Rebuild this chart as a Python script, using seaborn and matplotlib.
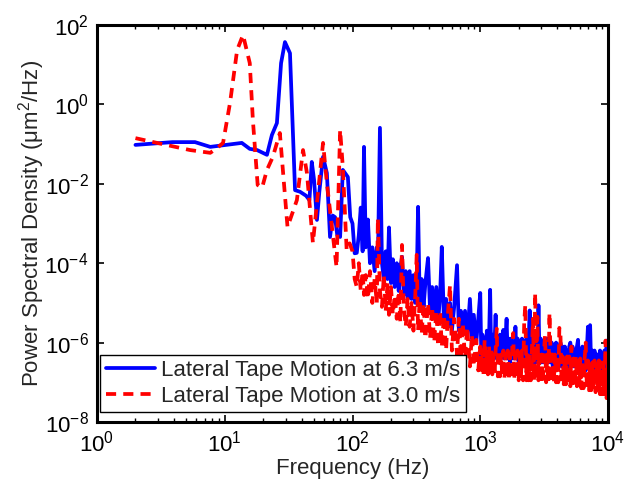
import matplotlib
matplotlib.use("Agg")
import matplotlib.pyplot as plt
import numpy as np
import pandas as pd
import seaborn as sns
from matplotlib.ticker import LogLocator, NullLocator, FixedLocator

# values: frequency in Hz, PSD given as log10 exponent

# below 100 Hz, point by point
blue_low_freq = [2, 3.9, 5.85, 7.7, 13.6, 15.7, 17.9, 21.4, 23.4, 25.6, 27.6, 29.6, 32.4,
                 35.5, 38.8, 43.3, 46, 48, 50, 52.7, 55, 58.8, 63, 66.7, 70, 73, 76, 80,
                 84, 92, 96]
blue_low_exp = [-1.02, -0.95, -0.95, -1.07, -0.97, -1.12, -1.15, -1.27, -0.77, -0.47, 1.04, 1.57, 1.29,
                -2.16, -2.2, -2.3, -2.41, -1.45, -1.9, -2.91, -2.2, -1.32, -1.73, -3.34, -2.8, -2.84, -3.3, -3.34,
                -1.65, -1.83, -2.84]

red_low_freq = [2, 2.95, 5.35, 7.7, 8.7, 9.7, 11, 12.5, 13.9, 15.7, 16.6, 18.1, 19.6, 21.4,
                23.8, 27, 31, 36.7, 41, 44, 49, 58.8, 63, 75, 80, 84, 90, 95]
red_low_exp = [-0.85, -0.97, -1.15, -1.22, -1.1, -0.97, 0.04, 1.37, 1.75, 1.04, -0.39, -2.03, -2.1, -1.65,
               -1.32, -0.72, -3.09, -2.41, -1.15, -1.73, -3.49, -0.97, -1.98, -4.1, -0.64, -1.58, -3.67, -3.5]

# 100 Hz - 1 kHz, shared frequency list
mid_freq = [100, 104, 108, 112, 116, 120, 123, 127, 132, 137, 143, 149, 155, 158, 164, 170,
            176, 182, 188, 193, 200, 207, 214, 222, 230, 237, 244, 252, 261, 270, 280, 290,
            300, 310, 318, 326, 336, 348, 360, 372, 390, 405, 420, 436, 453, 470, 485, 500,
            520, 540, 560, 580, 600, 625, 658, 680, 705, 730, 760, 790, 830, 860, 890, 930,
            965]
blue_mid_exp = [-3.0, -3.75, -3.74, -3.3, -2.6, -3.7, -1.07, -3.6, -2.9, -4.0, -3.6, -4.2, -3.6, -4.0, -0.59, -4.0,
                -4.4, -3.7, -4.4, -3.1, -4.5, -3.9, -4.6, -4.0, -4.7, -4.1, -3.84, -4.8, -4.2, -4.9, -4.2, -4.9,
                -4.3, -5.0, -4.5, -2.58, -5.0, -4.4, -5.1, -4.5, -3.87, -5.2, -4.6, -5.3, -4.6, -5.4, -4.8, -3.59,
                -5.5, -4.9, -5.6, -5.0, -5.7, -5.1, -4.05, -5.7, -5.2, -5.8, -5.2, -5.9, -4.9, -5.9, -5.3, -6.0,
                -5.4]
red_mid_exp = [-3.7, -4.4, -4.6, -4.0, -4.7, -4.2, -4.8, -4.3, -4.9, -4.2, -5.0, -4.4, -5.0, -2.86, -4.7, -5.1,
               -4.3, -5.2, -4.5, -5.3, -4.6, -5.3, -4.8, -5.4, -4.7, -5.5, -3.54, -5.1, -5.6, -4.9, -5.6, -5.0,
               -5.7, -4.8, -3.79, -5.7, -4.9, -5.8, -5.0, -5.9, -5.0, -5.9, -5.1, -6.0, -5.2, -6.1, -5.2, -6.1,
               -5.3, -6.2, -5.2, -4.55, -6.2, -5.4, -6.3, -5.4, -6.4, -5.5, -6.4, -5.6, -6.6, -5.8, -6.6, -5.93,
               -6.7]

# 1 kHz - 10 kHz, denser shared frequency list
high_freq = [1000, 1020, 1040, 1061, 1082, 1104, 1126, 1149, 1172, 1195,
             1219, 1243, 1268, 1294, 1319, 1346, 1373, 1400, 1428, 1457,
             1486, 1516, 1546, 1577, 1608, 1641, 1673, 1707, 1741, 1776,
             1811, 1848, 1885, 1922, 1961, 2000, 2040, 2081, 2122, 2165,
             2208, 2252, 2297, 2343, 2390, 2438, 2487, 2536, 2587, 2639,
             2692, 2745, 2800, 2856, 2913, 2972, 3031, 3092, 3154, 3217,
             3281, 3347, 3414, 3482, 3551, 3623, 3695, 3769, 3844, 3921,
             4000, 4080, 4161, 4245, 4330, 4416, 4504, 4594, 4686, 4780,
             4876, 4973, 5073, 5174, 5278, 5383, 5491, 5600, 5713, 5827,
             5943, 6062, 6184, 6307, 6433, 6562, 6693, 6827, 6964, 7103,
             7245, 7390, 7538, 7689, 7842, 7999, 8159, 8323, 8489, 8659,
             8832, 9009, 9189, 9373, 9561, 9752, 9947, 10000]
blue_high_exp = [-4.75, -6.4, -5.8, -6.4, -5.9, -6.3, -5.7, -6.4, -5.9, -4.67,
                 -6.4, -5.8, -6.4, -6.0, -5.3, -6.4, -5.9, -6.4, -5.8, -6.4,
                 -6.0, -5.68, -6.4, -5.9, -5.4, -6.4, -5.9, -6.5, -5.9, -6.4,
                 -6.0, -6.4, -5.6, -6.4, -5.9, -6.5, -6.0, -6.4, -5.9, -6.5,
                 -6.0, -6.5, -5.9, -6.4, -6.0, -5.19, -6.5, -6.0, -6.5, -5.9,
                 -6.5, -6.0, -6.5, -5.06, -6.4, -5.9, -6.5, -6.0, -6.5, -6.0,
                 -6.5, -5.9, -6.5, -6.1, -6.5, -6.0, -6.6, -6.1, -6.5, -6.0,
                 -6.6, -6.1, -6.5, -6.0, -6.6, -6.1, -6.6, -6.1, -6.6, -6.2,
                 -6.6, -6.1, -6.0, -6.6, -6.1, -6.6, -6.2, -6.6, -6.1, -5.93,
                 -6.6, -6.2, -6.7, -6.1, -6.6, -6.2, -6.7, -6.2, -5.6, -6.6,
                 -5.56, -6.7, -6.2, -6.7, -6.2, -6.7, -6.3, -6.3, -6.8, -6.2,
                 -6.7, -6.3, -6.8, -6.2, -6.8, -5.95, -6.4, -6.7]
red_high_exp = [-6.1, -6.75, -6.2, -6.8, -5.93, -6.8, -6.2, -6.8, -6.1, -6.8,
                -6.2, -6.8, -6.3, -6.85, -6.2, -5.65, -6.85, -6.2, -6.85, -6.3,
                -6.85, -6.2, -6.9, -6.3, -6.9, -6.2, -6.9, -6.3, -6.9, -6.2,
                -5.76, -6.9, -6.3, -6.9, -6.2, -6.95, -6.3, -6.9, -6.2, -6.95,
                -5.5, -5.05, -6.95, -6.2, -6.95, -6.3, -6.95, -6.2, -5.4, -6.95,
                -4.75, -6.95, -5.35, -6.95, -6.2, -7.0, -6.3, -7.0, -6.2, -5.8,
                -7.0, -6.3, -7.0, -5.25, -6.3, -7.0, -6.3, -7.0, -6.3, -7.0,
                -6.3, -7.0, -5.63, -5.78, -7.05, -6.35, -7.05, -6.3, -7.05, -6.35,
                -7.05, -6.35, -7.1, -6.1, -7.1, -6.4, -7.1, -6.35, -7.1, -6.4,
                -7.15, -6.4, -7.15, -6.45, -7.15, -6.4, -6.0, -7.15, -6.45, -7.2,
                -6.45, -7.2, -6.5, -7.2, -6.45, -7.25, -6.5, -7.25, -6.45, -7.3,
                -6.5, -7.3, -6.5, -7.35, -5.95, -7.4, -6.55, -6.8]

blue_label = "Lateral Tape Motion at 6.3 m/s"
red_label = "Lateral Tape Motion at 3.0 m/s"

blue_df = pd.DataFrame({
    "freq": blue_low_freq + mid_freq + high_freq,
    "psd": 10.0 ** np.array(blue_low_exp + blue_mid_exp + blue_high_exp),
})
red_df = pd.DataFrame({
    "freq": red_low_freq + mid_freq + high_freq,
    "psd": 10.0 ** np.array(red_low_exp + red_mid_exp + red_high_exp),
})

sns.set_theme(style="white")
plt.rcParams["font.family"] = ["Liberation Sans", "DejaVu Sans"]
plt.rcParams["mathtext.fontset"] = "custom"
plt.rcParams["mathtext.rm"] = "Liberation Sans"
plt.rcParams["mathtext.it"] = "Liberation Sans:italic"
plt.rcParams["mathtext.default"] = "regular"

fs = 16
fig = plt.figure(figsize=(6.29, 4.83), dpi=100)
ax = fig.add_axes([97 / 629, 1 - 422 / 483, 511 / 629, 397 / 483])

sns.lineplot(data=blue_df, x="freq", y="psd", ax=ax, color="#0000ff", linewidth=2.7,
             sort=False, estimator=None, label=blue_label)
sns.lineplot(data=red_df, x="freq", y="psd", ax=ax, color="#ff0000", linewidth=2.7,
             linestyle=(0, (2.7, 1.9)), sort=False, estimator=None, label=red_label)

ax.set_xscale("log")
ax.set_yscale("log")
ax.set_xlim(1, 1e4)
ax.set_ylim(1e-8, 1e2)

ax.xaxis.set_major_locator(FixedLocator([1e0, 1e1, 1e2, 1e3, 1e4]))
ax.xaxis.set_minor_locator(LogLocator(base=10, subs=np.arange(2, 10), numticks=20))
ax.yaxis.set_major_locator(FixedLocator([1e-8, 1e-6, 1e-4, 1e-2, 1e0, 1e2]))
ax.yaxis.set_minor_locator(NullLocator())

ax.tick_params(which="both", direction="in", top=True, right=True, bottom=True, left=True,
               labelsize=fs, colors="black", pad=6)
ax.tick_params(which="major", length=5, width=1.2)
ax.tick_params(which="minor", length=3, width=1.0)

for spine in ax.spines.values():
    spine.set_visible(True)
    spine.set_color("black")
    spine.set_linewidth(2.2)

ax.set_xlabel("Frequency (Hz)", fontsize=fs, labelpad=1)
ax.set_ylabel("Power Spectral Density (μm$^2$/Hz)", fontsize=fs, labelpad=-2)

leg = ax.legend(loc="lower left", bbox_to_anchor=(0.006, 0.025), borderaxespad=0,
                fontsize=fs, frameon=True, fancybox=False, framealpha=1,
                handlelength=2.2, handletextpad=0.3, borderpad=0.25, labelspacing=0.2)
leg.get_frame().set_edgecolor("black")
leg.get_frame().set_linewidth(1.0)

fig.savefig("out.png", dpi=100)
